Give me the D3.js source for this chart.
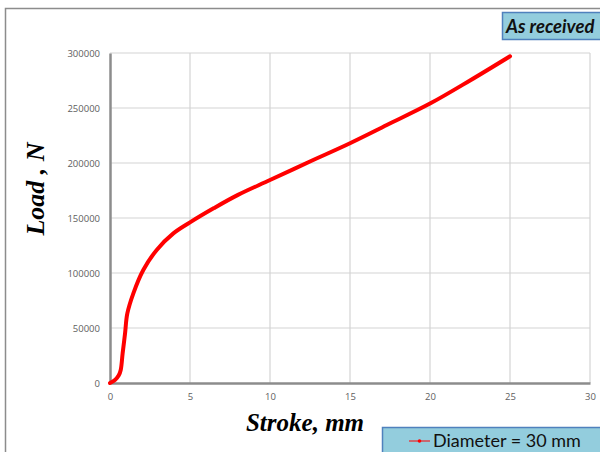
<!DOCTYPE html>
<html>
<head>
<meta charset="utf-8">
<script src="https://cdn.jsdelivr.net/npm/d3@7"></script>
<style>
  body { margin: 0; background: #fff; }
  svg { display: block; }
</style>
</head>
<body>
<div id="vis"></div>
<script>
var width = 600, height = 452
var margin = { top: 53, left: 110, bottom: 69, right: 10 }

// stroke (mm) and load (N)
var stroke = [0, 0.31, 0.55, 0.67, 0.79, 0.94, 1.08, 1.46, 2.08, 2.92, 3.96, 5, 6.5, 8, 10, 12.7, 15, 17.3, 20, 22.5, 25]
var load = [0, 2700, 7000, 11800, 27000, 45000, 63000, 81500, 102700, 121000, 136000, 146000, 159000, 171000, 184500, 202700, 218000, 234500, 254000, 275000, 297000]
var xTicks = [0, 5, 10, 15, 20, 25, 30]
var yTicks = [0, 50000, 100000, 150000, 200000, 250000, 300000]
var seriesName = 'Diameter = 30 mm'

var dataset = stroke.map((s, i) => ({ x: s, y: load[i] }))

var svg = d3.select('#vis').append('svg')
    .attr('width', width)
    .attr('height', height)

// outer frame (top and left edges only visible)
svg.append('path')
    .attr('d', 'M5.5,' + height + 'V8.5H' + width)
    .attr('fill', 'none')
    .attr('stroke', '#8c8c8c')
    .attr('stroke-width', 1.5)

var w = 590 - margin.left, h = 383 - margin.top
var g = svg.append('g')
    .attr('transform', 'translate(' + margin.left + ',' + margin.top + ')')

var x = d3.scaleLinear().domain([0, 30]).range([0, w])
var y = d3.scaleLinear().domain([0, 300000]).range([h, 0])

// gridlines
g.append('g')
    .selectAll('line')
    .data(xTicks.slice(1))
    .enter().append('line')
    .attr('x1', d => x(d)).attr('x2', d => x(d))
    .attr('y1', 0).attr('y2', h)
    .attr('stroke', '#d4d4d4').attr('stroke-width', 1.2)
g.append('g')
    .selectAll('line')
    .data(yTicks.slice(1))
    .enter().append('line')
    .attr('x1', 0).attr('x2', w)
    .attr('y1', d => y(d)).attr('y2', d => y(d))
    .attr('stroke', '#d4d4d4').attr('stroke-width', 1.2)

// axes
var xAxis = g.append('g')
    .attr('transform', 'translate(0,' + h + ')')
    .call(d3.axisBottom(x).tickValues(xTicks).tickSize(0).tickPadding(10))
var yAxis = g.append('g')
    .call(d3.axisLeft(y).tickValues(yTicks).tickSize(0).tickPadding(10).tickFormat(d3.format('d')))

;[xAxis, yAxis].forEach(a => {
  a.select('.domain').attr('stroke', '#8c8c8c').attr('stroke-width', 2.5)
  a.selectAll('text')
    .attr('fill', '#606060')
    .style('font-family', 'Open Sans, sans-serif')
    .style('font-size', '9.5px')
})

// curve
var line = d3.line()
    .x(d => x(d.x))
    .y(d => y(d.y))
    .curve(d3.curveCatmullRom.alpha(0.5))

g.append('path')
    .datum(dataset)
    .attr('d', line)
    .attr('fill', 'none')
    .attr('stroke', '#ff0000')
    .attr('stroke-width', 4)
    .attr('stroke-linecap', 'round')

// axis titles
svg.append('text')
    .attr('transform', 'translate(44,189) rotate(-90)')
    .attr('text-anchor', 'middle')
    .style('font-family', 'Liberation Serif, serif')
    .style('font-weight', 'bold')
    .style('font-style', 'italic')
    .style('font-size', '26px')
    .text('Load , N')

svg.append('text')
    .attr('x', 305).attr('y', 431)
    .attr('text-anchor', 'middle')
    .style('font-family', 'Liberation Serif, serif')
    .style('font-weight', 'bold')
    .style('font-style', 'italic')
    .style('font-size', '25px')
    .text('Stroke, mm')

// "As received" label box
svg.append('rect')
    .attr('x', 502.5).attr('y', 12.5)
    .attr('width', 110).attr('height', 27)
    .attr('fill', '#93cddd')
    .attr('stroke', '#4f81bd').attr('stroke-width', 1.5)
svg.append('text')
    .attr('x', 506).attr('y', 32.5)
    .style('font-family', 'Lato, sans-serif')
    .style('font-weight', 'bold')
    .style('font-style', 'italic')
    .style('font-size', '18.5px')
    .attr('fill', '#111')
    .text('As received')

// legend box
var leg = svg.append('g')
leg.append('rect')
    .attr('x', 382.5).attr('y', 427.5)
    .attr('width', 240).attr('height', 40)
    .attr('fill', '#93cddd')
    .attr('stroke', '#4f81bd').attr('stroke-width', 1.5)
leg.append('line')
    .attr('x1', 409).attr('x2', 430)
    .attr('y1', 441).attr('y2', 441)
    .attr('stroke', '#ff0000').attr('stroke-width', 1)
leg.append('circle')
    .attr('cx', 419.5).attr('cy', 441).attr('r', 1.8)
    .attr('fill', '#ff0000')
leg.append('text')
    .attr('x', 433).attr('y', 447)
    .style('font-family', 'Lato, sans-serif')
    .style('font-size', '18px')
    .attr('fill', '#111')
    .text(seriesName)
</script>
</body>
</html>
